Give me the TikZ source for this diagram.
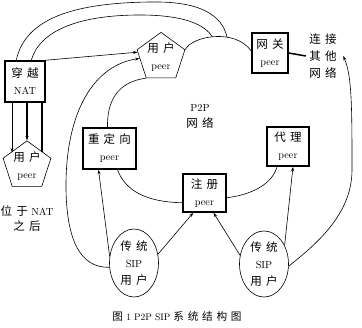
\documentclass[tikz,border=0pt]{standalone}
\usepackage{fontspec}
\newfontfamily\cjk[Scale=1.12]{Noto Sans CJK SC}
\usetikzlibrary{shapes.geometric,arrows.meta,calc}
\newcommand{\zh}[1]{{\cjk #1}}
\newcommand{\gapz}{\hspace{0.35em}}
\tikzset{
  peerbox/.style={draw,line width=1.5pt,inner sep=0pt,align=center},
  userpeer/.style={draw,regular polygon,regular polygon sides=5,minimum size=49pt,inner sep=0pt,align=center},
  sipuser/.style={draw,ellipse,inner sep=0pt,minimum width=49pt,align=center},
  link/.style={-{Stealth[length=4.5pt,width=3pt]}},
}
\begin{document}
\begin{tikzpicture}[x=1pt,y=-1pt,font=\fontsize{10.3}{17}\selectfont,line width=0.6pt]
\useasboundingbox (0,0) rectangle (362,328);
% peers and users
\node[peerbox,minimum width=40pt,minimum height=41pt] (nat) at (25,81.5) {\zh{穿\gapz 越}\\NAT};
\node[userpeer] (peerN) at (27,166) {\zh{用\gapz 户}\\peer};
\node[userpeer] (peerU) at (161,57.5) {\zh{用\gapz 户}\\peer};
\node[peerbox,minimum width=36pt,minimum height=40pt] (gw) at (270,53) {\zh{网\gapz 关}\\peer};
\node[peerbox,minimum width=53pt,minimum height=41pt] (redir) at (109.5,148.5) {\zh{重\gapz 定\gapz 向}\\peer};
\node[peerbox,minimum width=42pt,minimum height=39pt] (proxy) at (288,146.5) {\zh{代\gapz 理}\\peer};
\node[peerbox,minimum width=43pt,minimum height=38pt] (reg) at (204.5,193) {\zh{注\gapz 册}\\peer};
\node[sipuser,minimum height=68pt] (sipL) at (134,263) {\zh{传\gapz 统}\\SIP\\\zh{用\gapz 户}};
\node[sipuser,minimum height=66pt] (sipR) at (264,264) {\zh{传\gapz 统}\\SIP\\\zh{用\gapz 户}};
% texts
\node[align=center] (other) at (323,56) {\zh{连\gapz 接}\\\zh{其\gapz 他}\\\zh{网\gapz 络}};
\node[align=center] (behind) at (27,219) {\zh{位\gapz 于}\ NAT\\[-2pt]\zh{之\gapz 后}};
\node[align=center] (net) at (200,116) {P2P\\[-1pt]\zh{网\gapz 络}};
\node[font=\fontsize{9.5}{12}\selectfont] (cap) at (177,316) {\zh{图}\ 1\ P2P\ SIP\ \zh{系\gapz 统\gapz 结\gapz 构\gapz 图}};
% P2P cloud
\draw (peerU.corner 5) .. controls (192,36) and (235,28) .. ([yshift=2]gw.west)
  coordinate[pos=0.47] (bumpA) coordinate[pos=0.65] (bumpB);
\draw (peerU.corner 3) .. controls (118,82) and (107,100) .. ([xshift=-2]redir.north);
\draw ([xshift=8]redir.south) .. controls (125,190) and (145,202) .. ([yshift=10]reg.south west);
\draw ([yshift=15]reg.south east) .. controls (250,195) and (272,185) .. ([xshift=-11]proxy.south);
% NAT
\draw[link] (nat.north east) -- ($(peerU.corner 2)!0.09!(peerU.corner 3)$);
\draw ([xshift=12]nat.north west) .. controls (25,20) and (70,3) .. (150,2) .. controls (200,1) and (222,15) .. (bumpB);
\draw ([xshift=27]nat.north west) .. controls (40,30) and (80,15) .. (140,15) .. controls (185,15) and (205,25) .. (bumpA);
\draw[link] ([xshift=-13]nat.south) -- ([shift={(-15,-13.6)}]peerN.center);
\draw[link,line width=1.3pt] (nat.south -| peerN.north) -- (peerN.north);
\draw[line width=1.3pt] ([xshift=17]nat.south) -- ([shift={(15,-13.6)}]peerN.center);
% gateway
\draw[line width=1.5pt] (gw.east) -- (other.west);
% SIP users
\draw[link] (sipL.190) .. controls (80,268) and (67,240) .. (66,190) .. controls (65,110) and (95,65) .. ($(peerU.corner 2)!0.31!(peerU.corner 3)$);
\draw[link] (sipL.165) -- ([xshift=-11]redir.south);
\draw[link] (sipL.20) -- ([xshift=11]reg.south west);
\draw[link] (sipR.160) -- ([xshift=9]reg.south);
\draw[link] (sipR.42) -- ([xshift=5]proxy.south);
\draw[link] (sipR.-5) .. controls (315,245) and (352,215) .. (352,170) .. controls (352,110) and (352,75) .. ([xshift=3]other.east);
\end{tikzpicture}
\end{document}
